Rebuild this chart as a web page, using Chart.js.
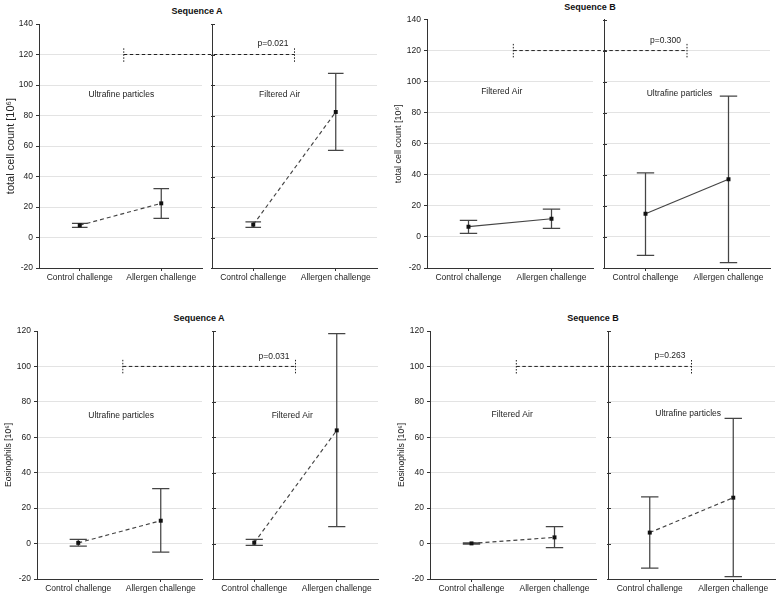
<!DOCTYPE html>
<html>
<head>
<meta charset="utf-8">
<script src="https://cdn.jsdelivr.net/npm/chart.js@4.4.0/dist/chart.umd.min.js"></script>
<style>
html,body{margin:0;padding:0;background:#fff;}
#root{position:relative;width:778px;height:594px;overflow:hidden;background:#fff;}
#root canvas{position:absolute;}
.ptitle{position:absolute;font-family:'Liberation Sans',Arial,sans-serif;font-weight:bold;font-size:9px;color:#111;transform:translate(-50%,-50%);white-space:nowrap;}
</style>
</head>
<body>
<div id="root"></div>
<script>
// ---------------- DATA ----------------
const categories = ['Control challenge', 'Allergen challenge'];
const totalYTicks = [-20, 0, 20, 40, 60, 80, 100, 120, 140];
const eosYTicks = [-20, 0, 20, 40, 60, 80, 100, 120];

// Top row: total cell count [10^6]
const totalA_UFP_mean = [8.0, 22.4];
const totalA_UFP_low  = [6.7, 12.6];
const totalA_UFP_high = [9.3, 32.0];
const totalA_FA_mean  = [8.4, 82.3];
const totalA_FA_low   = [6.7, 57.2];
const totalA_FA_high  = [10.2, 107.7];

const totalB_FA_mean  = [6.6, 11.7];
const totalB_FA_low   = [2.3, 5.5];
const totalB_FA_high  = [10.6, 17.9];
const totalB_UFP_mean = [14.9, 37.2];
const totalB_UFP_low  = [-11.9, -16.6];
const totalB_UFP_high = [41.3, 90.7];

// Bottom row: eosinophils [10^6]
const eosA_UFP_mean = [0.4, 12.9];
const eosA_UFP_low  = [-1.4, -4.8];
const eosA_UFP_high = [2.4, 31.0];
const eosA_FA_mean  = [0.5, 63.9];
const eosA_FA_low   = [-1.0, 9.5];
const eosA_FA_high  = [2.4, 118.5];

const eosB_FA_mean  = [0.1, 3.5];
const eosB_FA_low   = [-0.3, -2.3];
const eosB_FA_high  = [0.4, 9.5];
const eosB_UFP_mean = [6.2, 25.9];
const eosB_UFP_low  = [-13.8, -18.7];
const eosB_UFP_high = [26.3, 70.7];

const panelTitles = ['Sequence A', 'Sequence B', 'Sequence A', 'Sequence B'];
const yTitles = ['total cell count [10\u2076]', 'total cell count [10\u2076]', 'Eosinophils [10\u2076]', 'Eosinophils [10\u2076]'];
const leftLabels = ['Ultrafine particles', 'Filtered Air', 'Ultrafine particles', 'Filtered Air'];
const rightLabels = ['Filtered Air', 'Ultrafine particles', 'Filtered Air', 'Ultrafine particles'];
const pValues = ['p=0.021', 'p=0.300', 'p=0.031', 'p=0.263'];
const bracketLevels = [120, 120, 100, 100];

// ---------------- LAYOUT (positions / styles) ----------------
const FONT = "'Liberation Sans', Arial, sans-serif";
const panels = [
  {ticks: totalYTicks, L: {m: totalA_UFP_mean, lo: totalA_UFP_low, hi: totalA_UFP_high}, R: {m: totalA_FA_mean, lo: totalA_FA_low, hi: totalA_FA_high},
   dash: [4, 3], cap: 7.8, top: 24, bottom: 268, l1: 39, r1: 203, l2: 212, r2: 378, yTitleX: 11, yTitleSize: 11,
   titleX: 197, titleY: 11, labY: [93.7, 93.7], labX: [0.51, 0.32], bTicks: [115.2, 124.6], pY: 127},
  {ticks: totalYTicks, L: {m: totalB_FA_mean, lo: totalB_FA_low, hi: totalB_FA_high}, R: {m: totalB_UFP_mean, lo: totalB_UFP_low, hi: totalB_UFP_high},
   dash: [], cap: 8.7, top: 19.5, bottom: 268, l1: 427, r1: 594, l2: 604, r2: 771, yTitleX: 398, yTitleSize: 9,
   titleX: 590, titleY: 6.5, labY: [93.3, 92.4], labX: [0.40, 0.41], bTicks: [115.6, 125], pY: 126.7},
  {ticks: eosYTicks, L: {m: eosA_UFP_mean, lo: eosA_UFP_low, hi: eosA_UFP_high}, R: {m: eosA_FA_mean, lo: eosA_FA_low, hi: eosA_FA_high},
   dash: [4, 3], cap: 8.6, top: 331, bottom: 579, l1: 37, r1: 203, l2: 213, r2: 379, yTitleX: 8, yTitleSize: 8.6,
   titleX: 199, titleY: 318, labY: [72.2, 72.2], labX: [0.52, 0.46], bTicks: [96.1, 104.2], pY: 105.5},
  {ticks: eosYTicks, L: {m: eosB_FA_mean, lo: eosB_FA_low, hi: eosB_FA_high}, R: {m: eosB_UFP_mean, lo: eosB_UFP_low, hi: eosB_UFP_high},
   dash: [4, 3], cap: 8.7, top: 331, bottom: 579, l1: 430, r1: 597, l2: 608, r2: 776, yTitleX: 401, yTitleSize: 8.6,
   titleX: 593, titleY: 318, labY: [73, 73.6], labX: [0.49, 0.46], bTicks: [96, 104], pY: 105.9}
];

const errPlugin = {
  id: 'err',
  beforeDatasetsDraw(chart, args, o) {
    const {ctx, chartArea} = chart;
    const x = chart.scales.x, y = chart.scales.y;
    ctx.save();
    // inward tick marks on the divider axis of the right sub-plot
    if (o.inwardTicks) {
      ctx.strokeStyle = '#333';
      ctx.lineWidth = 1;
      ctx.beginPath();
      y.ticks.forEach(t => {
        const py = Math.round(y.getPixelForValue(t.value)) + 0.5;
        ctx.moveTo(chartArea.left - 1, py); ctx.lineTo(chartArea.left + 3, py);
      });
      ctx.stroke();
    }
    ctx.strokeStyle = '#454545';
    ctx.lineWidth = 1.25;
    ctx.setLineDash([]);
    for (let i = 0; i < o.lo.length; i++) {
      const px = x.getPixelForValue(i);
      const y1 = y.getPixelForValue(o.lo[i]);
      const y2 = y.getPixelForValue(o.hi[i]);
      ctx.beginPath();
      ctx.moveTo(px, y1); ctx.lineTo(px, y2);
      ctx.moveTo(px - o.cap, y1); ctx.lineTo(px + o.cap, y1);
      ctx.moveTo(px - o.cap, y2); ctx.lineTo(px + o.cap, y2);
      ctx.stroke();
    }
    ctx.restore();
  },
  afterDraw(chart, args, o) {
    const {ctx} = chart;
    ctx.save();
    ctx.fillStyle = '#222';
    ctx.font = '8.5px ' + FONT;
    ctx.textAlign = 'center';
    ctx.textBaseline = 'middle';
    ctx.fillText(o.label, chart.scales.x.getPixelForValue(o.labX), chart.scales.y.getPixelForValue(o.labY));
    ctx.restore();
  }
};

const root = document.getElementById('root');

function makeChart(p, side) {
  const isL = side === 'L';
  const idx = panels.indexOf(p);
  const areaL = isL ? p.l1 : p.l2;
  const areaR = isL ? p.r1 : p.r2;
  const lh = p.yTitleSize * 1.2;
  const cLeft = isL ? Math.round(p.yTitleX - lh / 2) : areaL - 8;
  const cTop = Math.round(p.top) - 10;
  const cW = Math.round(areaR) + 3 - cLeft;
  const cH = Math.round(p.bottom) + 22 - cTop;
  const yAxisW = Math.round(areaL) - cLeft;
  const padTop = p.top - cTop;
  const cv = document.createElement('canvas');
  cv.width = cW; cv.height = cH;
  cv.style.left = cLeft + 'px'; cv.style.top = cTop + 'px';
  cv.style.width = cW + 'px'; cv.style.height = cH + 'px';
  root.appendChild(cv);
  const d = p[side];
  const yMin = p.ticks[0], yMax = p.ticks[p.ticks.length - 1];
  const chart = new Chart(cv, {
    type: 'line',
    data: {
      labels: categories,
      datasets: [{
        data: d.m,
        borderColor: '#444',
        borderWidth: 1.15,
        borderDash: p.dash,
        pointStyle: 'rect',
        pointRadius: 2.8,
        pointBackgroundColor: '#111',
        pointBorderWidth: 0,
        tension: 0,
        fill: false
      }]
    },
    options: {
      responsive: false,
      animation: false,
      events: [],
      layout: {padding: {left: 0, top: padTop, right: 3, bottom: 2}},
      plugins: {
        legend: {display: false},
        tooltip: {enabled: false},
        err: {lo: d.lo, hi: d.hi, cap: p.cap, inwardTicks: !isL,
              label: isL ? leftLabels[idx] : rightLabels[idx],
              labX: p.labX[isL ? 0 : 1], labY: p.labY[isL ? 0 : 1]}
      },
      scales: {
        x: {
          type: 'category',
          offset: true,
          grid: {display: true, drawOnChartArea: false, drawTicks: true, tickLength: 3, tickColor: '#333'},
          border: {display: true, color: '#333', width: 1},
          ticks: {font: {family: FONT, size: 8.5}, color: '#222', padding: 2, maxRotation: 0, autoSkip: false},
          afterFit(s) { s.height = 20; }
        },
        y: {
          type: 'linear',
          min: yMin, max: yMax,
          afterBuildTicks(s) { s.ticks = p.ticks.map(v => ({value: v})); },
          grid: {
            color: c => (c.tick && c.tick.value === yMax) ? 'rgba(0,0,0,0)' : '#e3e3e3',
            lineWidth: 1, drawTicks: isL, tickLength: 3, tickColor: '#333'
          },
          border: {display: true, color: '#333', width: 1},
          ticks: {display: isL, font: {family: FONT, size: 8.5}, color: '#222', padding: 3},
          title: {display: isL, text: yTitles[idx], font: {family: FONT, size: p.yTitleSize}, color: '#222', padding: {top: 0, bottom: 0}},
          afterFit(s) { s.width = yAxisW; }
        }
      }
    },
    plugins: [errPlugin]
  });
  return {chart, left: cLeft, top: cTop};
}

const built = panels.map((p, i) => {
  const t = document.createElement('div');
  t.className = 'ptitle';
  t.textContent = panelTitles[i];
  t.style.left = p.titleX + 'px';
  t.style.top = p.titleY + 'px';
  root.appendChild(t);
  return {p, L: makeChart(p, 'L'), R: makeChart(p, 'R')};
});

// overlay for the significance brackets spanning both sub-plots
const ov = document.createElement('canvas');
const dpr = window.devicePixelRatio || 1;
ov.width = 778 * dpr; ov.height = 594 * dpr;
ov.style.left = '0px'; ov.style.top = '0px'; ov.style.width = '778px'; ov.style.height = '594px';
ov.style.zIndex = 5; ov.style.pointerEvents = 'none';
root.appendChild(ov);
const octx = ov.getContext('2d');
octx.scale(dpr, dpr);
built.forEach((b, i) => {
  const p = b.p;
  const lc = b.L.chart, rc = b.R.chart;
  const xA = b.L.left + lc.scales.x.getPixelForValue(0.54);
  const xB = b.R.left + rc.scales.x.getPixelForValue(0.5);
  const ys = v => b.R.top + rc.scales.y.getPixelForValue(v);
  const yLev = ys(bracketLevels[i]);
  octx.save();
  octx.strokeStyle = '#222';
  octx.lineWidth = 1;
  octx.setLineDash([3.5, 2.5]);
  octx.beginPath();
  octx.moveTo(xA, yLev); octx.lineTo(xB, yLev);
  octx.stroke();
  octx.setLineDash([1.5, 1.5]);
  octx.beginPath();
  octx.moveTo(xA, ys(p.bTicks[0])); octx.lineTo(xA, ys(p.bTicks[1]));
  octx.moveTo(xB, ys(p.bTicks[0])); octx.lineTo(xB, ys(p.bTicks[1]));
  octx.stroke();
  octx.setLineDash([]);
  octx.fillStyle = '#222';
  octx.font = '8.5px ' + FONT;
  octx.textAlign = 'right';
  octx.textBaseline = 'middle';
  octx.fillText(pValues[i], xB - 6, ys(p.pY));
  octx.restore();
});
</script>
</body>
</html>
